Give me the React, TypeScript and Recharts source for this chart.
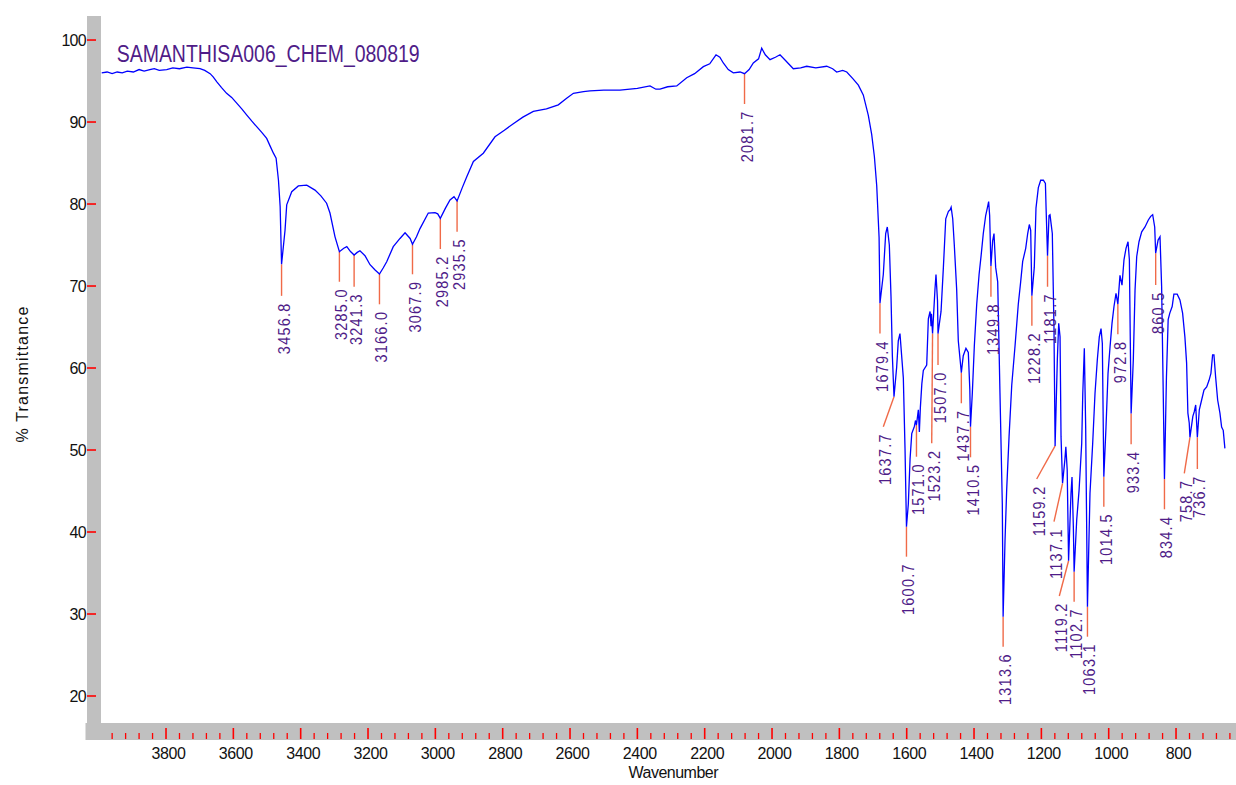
import React from 'react';
import { ComposedChart, Line, XAxis, YAxis, ReferenceLine, ReferenceDot, Customized } from 'recharts';

const chartTitle = 'SAMANTHISA006_CHEM_080819';
const xTitle = 'Wavenumber';
const yTitle = '% Transmittance';

// Spectrum, wavenumber (cm-1) and % transmittance
const wavenumber = [
  3991, 3975, 3960, 3945, 3930, 3915, 3897, 3880, 3865, 3848, 3835, 3820, 3798, 3780, 3760, 3738, 3720, 3699, 3685, 3669,
  3660, 3649, 3635, 3620, 3605, 3590, 3575, 3560, 3545, 3530, 3515, 3501, 3490, 3481, 3473, 3466, 3461, 3456.8, 3446.5, 3441.5,
  3426.6, 3407, 3382, 3357.5, 3340, 3323, 3313, 3298, 3285, 3272, 3263, 3252, 3241.3, 3232, 3224, 3209, 3194, 3179, 3166, 3155,
  3144.5, 3125, 3105, 3090, 3075, 3067.9, 3056, 3045.6, 3021, 3001, 2993, 2985.2, 2970, 2956.5, 2944.6, 2935.5, 2920, 2907, 2887, 2857.6,
  2822.8, 2795, 2768.5, 2740, 2709, 2670, 2634.8, 2610, 2590, 2560, 2540.7, 2500, 2451.5, 2400, 2362.4, 2345, 2332.7, 2310, 2283, 2253.4,
  2230, 2204, 2185, 2166.4, 2155, 2144.7, 2130, 2115, 2095, 2081.7, 2068, 2055.6, 2040, 2030.7, 2020, 2006, 1990, 1976.3, 1960, 1936.8,
  1915, 1897, 1870, 1837.6, 1820, 1808, 1790, 1778, 1760, 1743.6, 1729, 1714, 1704, 1696, 1689, 1682, 1679.4, 1669.5, 1662.4, 1657.6,
  1651.6, 1646.6, 1642.6, 1637.7, 1629.8, 1625, 1620, 1615, 1610, 1605, 1600.7, 1595.2, 1590, 1585, 1577, 1574, 1571.0, 1565.4, 1562.4, 1559.4,
  1555, 1550.6, 1540.6, 1535.7, 1530.6, 1527.6, 1526.5, 1523.2, 1516, 1513, 1508.5, 1507.0, 1498, 1491, 1484, 1476, 1471, 1468, 1463.3, 1458.6,
  1451.6, 1446.7, 1437.7, 1432, 1424, 1417, 1412.5, 1410.5, 1405, 1399, 1392, 1385, 1379, 1372.5, 1365.4, 1360.6, 1356.6, 1353.6, 1349.8, 1344.7,
  1340.7, 1335.8, 1329.7, 1323, 1316, 1313.6, 1308, 1303, 1296, 1288, 1278, 1268.5, 1261.5, 1255.5, 1246.5, 1240.6, 1235.8, 1231.7, 1228.2, 1221,
  1216, 1209, 1202, 1194, 1188, 1186, 1181.7, 1177.3, 1174.3, 1171.4, 1167.5, 1162.6, 1159.2, 1152.6, 1148.5, 1144.5, 1141.6, 1137.1, 1130.2, 1127.3,
  1123.3, 1119.2, 1112, 1109, 1105, 1102.7, 1095, 1088, 1080.2, 1077, 1072.4, 1068.4, 1063.1, 1055.6, 1047.6, 1040.7, 1033.8, 1027.9, 1022.8, 1018.9,
  1014.5, 1008, 1002, 996, 990.2, 984.3, 978.3, 972.8, 966.5, 960.5, 954.6, 948.6, 942.6, 938.6, 933.4, 926.9, 921.8, 916.8, 910, 902,
  892.2, 882.3, 875.3, 869.4, 863.4, 860.5, 853.3, 847.6, 842.8, 838, 834.4, 828.5, 823.4, 818.5, 811.5, 806.4, 796.6, 788.4, 780.5, 773.7,
  768.6, 764.8, 760.8, 758.7, 750.1, 745.7, 741.6, 736.7, 730.9, 724, 717, 709, 702, 696.4, 691.4, 687.4, 682.4, 676.4, 669.6, 664.6,
  659.8, 654.9,
];

const transmittance = [
  96.0, 96.1, 95.9, 96.1, 96.0, 96.2, 96.1, 96.4, 96.2, 96.4, 96.5, 96.3, 96.4, 96.6, 96.5, 96.7, 96.6, 96.5, 96.3, 95.9,
  95.5, 94.9, 94.2, 93.5, 93.0, 92.3, 91.6, 90.85, 90.1, 89.4, 88.7, 88.0, 87.0, 86.2, 85.6, 82.9, 79.7, 72.65, 76.8, 79.9,
  81.5, 82.2, 82.3, 81.7, 81.0, 80.1, 78.9, 76.0, 74.18, 74.6, 74.8, 74.2, 73.78, 74.1, 74.3, 73.7, 72.6, 71.95, 71.46, 72.2,
  72.96, 74.8, 75.8, 76.5, 75.8, 75.09, 76.0, 77.0, 78.9, 78.95, 78.8, 78.26, 79.5, 80.5, 80.9, 80.37, 82.0, 83.3, 85.2, 86.2,
  88.2, 89.0, 89.8, 90.6, 91.3, 91.6, 92.1, 92.9, 93.5, 93.7, 93.8, 93.9, 93.9, 94.1, 94.4, 94.0, 94.0, 94.3, 94.4, 95.4,
  95.9, 96.75, 97.1, 98.2, 97.9, 97.2, 96.4, 96.0, 96.1, 95.9, 96.4, 97.2, 97.7, 99.0, 98.2, 97.6, 97.9, 98.2, 97.5, 96.5,
  96.6, 96.8, 96.6, 96.8, 96.5, 96.1, 96.3, 96.1, 95.3, 94.5, 93.3, 90.8, 88.5, 85.8, 82.2, 75.9, 67.9, 71.4, 76.4, 77.2,
  75.0, 68.7, 61.5, 56.5, 60.1, 63.3, 64.2, 61.5, 58.8, 50.2, 40.65, 43.4, 48.9, 52.0, 52.9, 53.6, 53.05, 54.9, 52.2, 55.2,
  58.1, 59.7, 60.35, 66.0, 66.9, 65.1, 66.6, 64.2, 69.6, 71.4, 68.2, 64.2, 66.9, 72.3, 78.2, 79.1, 79.3, 79.6, 78.2, 75.0,
  69.6, 63.3, 59.43, 61.5, 62.4, 61.9, 57.4, 52.84, 57.0, 62.8, 67.8, 71.4, 73.7, 76.4, 78.6, 79.5, 80.3, 78.6, 72.44, 75.5,
  76.4, 72.3, 70.5, 57.0, 43.4, 29.67, 38.9, 45.2, 51.6, 57.9, 62.8, 67.8, 70.5, 73.0, 74.6, 76.4, 77.5, 76.8, 68.82, 72.3,
  79.5, 82.0, 82.9, 82.9, 82.5, 79.5, 73.7, 78.6, 78.7, 77.7, 76.4, 65.0, 50.5, 61.0, 65.45, 63.8, 51.6, 45.94, 48.8, 50.4,
  47.6, 36.5, 44.7, 46.7, 40.6, 35.16, 41.5, 45.1, 50.8, 56.9, 62.4, 52.8, 30.89, 44.7, 50.8, 56.9, 61.0, 63.8, 64.8, 63.0,
  46.74, 52.8, 59.35, 62.6, 65.45, 67.5, 69.1, 67.8, 71.3, 70.1, 73.2, 74.6, 75.4, 73.2, 54.45, 61.0, 69.5, 73.6, 75.4, 76.6,
  77.2, 78.05, 78.5, 78.7, 77.2, 74.0, 75.6, 76.0, 69.9, 56.9, 46.46, 58.9, 65.9, 66.7, 67.5, 69.0, 69.0, 68.3, 66.7, 63.8,
  60.6, 54.5, 53.3, 51.55, 54.1, 54.7, 55.5, 51.55, 54.9, 56.1, 57.3, 57.7, 58.5, 59.35, 61.6, 61.6, 58.9, 56.1, 54.5, 52.8,
  52.4, 50.2,
];

// Peak annotations
const peakLabels = [
  '3456.8', '3285.0', '3241.3', '3166.0', '3067.9', '2985.2', '2935.5', '2081.7', '1679.4', '1637.7', '1600.7',
  '1571.0', '1523.2', '1507.0', '1437.7', '1410.5', '1349.8', '1313.6', '1228.2', '1181.7', '1159.2', '1137.1',
  '1119.2', '1102.7', '1063.1', '1014.5', '972.8', '933.4', '860.5', '834.4', '758.7', '736.7',
];
const peakTopT = [
  72.65, 74.18, 73.78, 71.46, 75.09, 78.26, 80.37, 95.9, 67.9, 56.5, 40.65,
  53.05, 64.2, 64.2, 59.43, 52.84, 72.44, 29.67, 68.82, 73.7, 50.5, 45.94,
  36.5, 35.16, 30.89, 46.74, 67.8, 54.45, 74.0, 46.46, 51.55, 51.55,
];
const peakEndW = [
  3456.8, 3285.0, 3241.3, 3166.0, 3067.9, 2985.2, 2935.5, 2081.7, 1679.4, 1669.5, 1600.7,
  1571.0, 1525.7, 1507.0, 1437.7, 1410.5, 1349.8, 1313.6, 1228.2, 1181.7, 1213.9, 1162.5,
  1146.7, 1102.7, 1063.1, 1014.5, 972.8, 933.4, 860.5, 834.4, 775.5, 736.7,
];
const peakEndT = [
  68.8, 70.52, 69.91, 67.77, 71.43, 74.51, 76.62, 92.2, 64.2, 52.84, 36.99,
  49.18, 50.82, 60.37, 55.7, 49.11, 68.7, 26.01, 65.16, 69.91, 46.46, 41.26,
  32.2, 31.5, 27.23, 43.09, 64.11, 50.7, 70.12, 42.77, 47.16, 47.68,
];

const yTicks = [20, 30, 40, 50, 60, 70, 80, 90, 100];
const xLabelTicks = [3800, 3600, 3400, 3200, 3000, 2800, 2600, 2400, 2200, 2000, 1800, 1600, 1400, 1200, 1000, 800];
const xMinorStep = 40;
const xTicks = Array.from({ length: 84 }, (_, i) => 3960 - i * xMinorStep);

const data = wavenumber.map((w, i) => ({ w, t: transmittance[i] }));

const FONT = '"Liberation Sans", Arial, sans-serif';
const PURPLE = '#4F1C88';
const PEAK_LINE = '#F06A48';
const TICK_RED = '#FF0000';
const BAND = '#C0C0C0';

const XTick = (props: any) => {
  const { x, y, payload } = props;
  const v = payload.value;
  const major = xLabelTicks.includes(v);
  return (
    <g>
      <line x1={x} x2={x} y1={y + (major ? -3.5 : 1.5)} y2={y + 7.5} stroke={TICK_RED} strokeWidth={major ? 1.6 : 1.3} />
      {major && (
        <text x={x + 2.5} y={y + 27} textAnchor="middle" fontSize={16} letterSpacing={-0.4} fill="#111" fontFamily={FONT}>
          {v}
        </text>
      )}
    </g>
  );
};

const YTick = (props: any) => {
  const { x, y, payload } = props;
  return (
    <g>
      <line x1={x - 7} x2={x + 2} y1={y} y2={y} stroke={TICK_RED} strokeWidth={1.6} />
      <text x={x - 8} y={y + 6} textAnchor="end" fontSize={16} letterSpacing={-0.7} fill="#111" fontFamily={FONT}>
        {payload.value}
      </text>
    </g>
  );
};

const makeLabelShape = (text: string) => (props: any) => {
  const { cx, cy } = props;
  return (
    <g transform={`translate(${cx},${cy + 6.5}) rotate(-90) scale(0.85,1)`}>
      <text x={0} y={0} dy={8} textAnchor="end" fontSize={17} letterSpacing={1.5} fill={PURPLE} fontFamily={FONT}>
        {text}
      </text>
    </g>
  );
};

const Overlay = () => (
  <g fontFamily={FONT}>
    <text x={116.7} y={61.7} fontSize={23} fill={PURPLE} textLength={303} lengthAdjust="spacingAndGlyphs">
      {chartTitle}
    </text>
    <text transform="translate(28,374) rotate(-90)" textAnchor="middle" fontSize={16} letterSpacing={1.2} fill="#111">
      {yTitle}
    </text>
    <text x={673.3} y={778.3} textAnchor="middle" fontSize={16} letterSpacing={-0.5} fill="#111">
      {xTitle}
    </text>
  </g>
);

export default function App() {
  return (
    <div style={{ position: 'absolute', left: 0, top: 0, width: 1236, height: 785, background: '#fff' }}>
      <ComposedChart width={1236} height={785} data={data} margin={{ top: 16, right: 0, bottom: 0, left: 0 }}>
        <XAxis
          dataKey="w"
          type="number"
          domain={[621.9, 4013.9]}
          reversed
          allowDataOverflow
          ticks={xTicks}
          interval={0}
          tick={<XTick />}
          tickLine={false}
          tickSize={0}
          tickMargin={0}
          height={53.5}
          axisLine={{ stroke: BAND, strokeWidth: 17, strokeLinecap: 'square' }}
        />
        <YAxis
          type="number"
          domain={[15.67, 102.93]}
          allowDataOverflow
          ticks={yTicks}
          interval={0}
          tick={<YTick />}
          tickLine={false}
          tickSize={0}
          tickMargin={0}
          width={94}
          axisLine={{ stroke: BAND, strokeWidth: 14 }}
        />
        {peakLabels.map((lab, i) => (
          <ReferenceLine
            key={'pl' + lab}
            segment={[
              { x: wavenumber[wavenumber.indexOf(parseFloat(lab))] ?? parseFloat(lab), y: peakTopT[i] },
              { x: peakEndW[i], y: peakEndT[i] },
            ]}
            stroke={PEAK_LINE}
            strokeWidth={1.4}
            ifOverflow="visible"
          />
        ))}
        <Line
          dataKey="t"
          type="linear"
          stroke="#0000FF"
          strokeWidth={1.3}
          dot={false}
          isAnimationActive={false}
        />
        {peakLabels.map((lab, i) => (
          <ReferenceDot
            key={'pt' + lab}
            x={peakEndW[i]}
            y={peakEndT[i]}
            r={0}
            ifOverflow="visible"
            shape={makeLabelShape(lab)}
          />
        ))}
        <Customized component={<Overlay />} />
      </ComposedChart>
    </div>
  );
}
